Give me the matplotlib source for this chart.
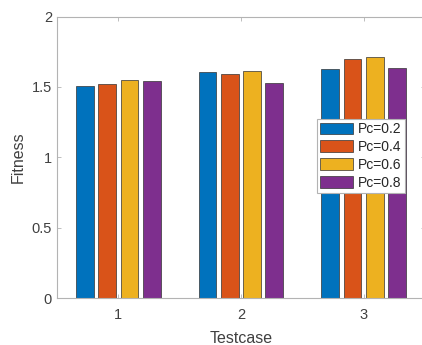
import numpy as np
from matplotlib import pyplot as plt

plt.rcParams['font.family'] = ['Liberation Sans', 'DejaVu Sans']

testcases = [1, 2, 3]
labels = ['Pc=0.2', 'Pc=0.4', 'Pc=0.6', 'Pc=0.8']
pc02 = [1.51, 1.605, 1.63]
pc04 = [1.52, 1.59, 1.70]
pc06 = [1.55, 1.615, 1.71]
pc08 = [1.54, 1.53, 1.635]
colors = ['#0072BD', '#D95319', '#EDB120', '#7E2F8E']

series = [pc02, pc04, pc06, pc08]

fig = plt.figure(figsize=(4.22, 3.45), dpi=100)
ax = fig.add_axes([0.135, 0.136, 0.872, 0.816])

# matlab-style grouped bars
n = len(series)
group_w = min(0.8, n / (n + 1.5))
step = group_w / n
x = np.array(testcases, dtype=float)
for i, (vals, c, lab) in enumerate(zip(series, colors, labels)):
    off = (i - (n - 1) / 2) * step
    ax.bar(x + off, vals, width=step * 0.8, color=c, edgecolor='#333333',
           linewidth=0.5, label=lab)

ax.set_xlim(0.5, 3.5)
ax.set_ylim(0, 2)
ax.set_xticks(testcases)
ax.set_yticks([0, 0.5, 1, 1.5, 2])
ax.set_yticklabels(['0', '0.5', '1', '1.5', '2'])

for s in ax.spines.values():
    s.set_color('#b3b3b3')
    s.set_linewidth(0.8)
ax.tick_params(direction='in', length=3, width=0.6, color='#b3b3b3',
               labelcolor='#404040', labelsize=10.5, top=True, right=True)
ax.tick_params(axis='x', pad=7.5)
ax.tick_params(axis='y', pad=3.5)

ax.set_xlabel('Testcase', fontsize=11.5, color='#404040', labelpad=6)
ax.set_ylabel('Fitness', fontsize=11.5, color='#404040', labelpad=4.5)

leg = ax.legend(loc='center', bbox_to_anchor=(0.825, 0.505), fontsize=10,
                handlelength=2.4, handleheight=0.9, labelspacing=0.28,
                borderpad=0.25, handletextpad=0.3, borderaxespad=0,
                fancybox=False, framealpha=1)
leg.get_frame().set_edgecolor('#b3b3b3')
leg.get_frame().set_linewidth(0.8)
for t in leg.get_texts():
    t.set_color('#262626')

fig.savefig('out.png', dpi=100)
